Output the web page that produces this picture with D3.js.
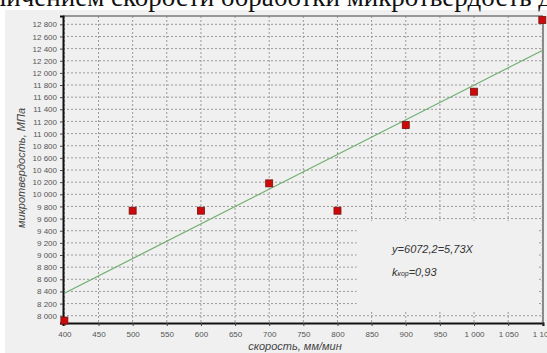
<!DOCTYPE html>
<html>
<head>
<meta charset="utf-8">
<script src="https://cdn.jsdelivr.net/npm/d3@7"></script>
<style>
    body { margin: 0; background: #fff; }
    svg { display: block; }
    .tick text { font-family: "Liberation Sans", Arial, sans-serif; font-size: 8px; fill: #555; }
</style>
</head>
<body>
<div id="plot-container"></div>
<script>
// measured points: speed (mm/min) vs microhardness (MPa)
const speeds = [400, 500, 600, 700, 800, 900, 1000, 1100];
const hardness = [7920, 9730, 9730, 10180, 9730, 11140, 11690, 12870];

// trend line end points
const trendX = [400, 1100];
const trendY = [8370, 12370];

const xTicks = [400, 450, 500, 550, 600, 650, 700, 750, 800, 850, 900, 950, 1000, 1050, 1100];
const yTicks = [8000, 8200, 8400, 8600, 8800, 9000, 9200, 9400, 9600, 9800, 10000, 10200, 10400,
    10600, 10800, 11000, 11200, 11400, 11600, 11800, 12000, 12200, 12400, 12600, 12800];

const equationText = "y=6072,2=5,73X";
const corrLabel = "k";
const corrSub = "кор";
const corrValue = "=0,93";

const margin = { top: 16, right: 4, bottom: 30, left: 63 };
const width = 547 - margin.left - margin.right;
const height = 353 - margin.top - margin.bottom;

const fmt = d3.formatLocale({ decimal: ",", thousands: " ", grouping: [3] }).format(",d");

const svgRoot = d3.select("#plot-container")
    .append("svg")
    .attr("width", 547)
    .attr("height", 353);

// grey panel of the screenshot
svgRoot.append("rect")
    .attr("x", 5).attr("y", 10)
    .attr("width", 542).attr("height", 343)
    .attr("fill", "#f0f0f0");

// cut-off line of document text above the chart
svgRoot.append("text")
    .attr("x", 552)
    .attr("y", 6)
    .attr("text-anchor", "end")
    .style("font-family", "'Liberation Serif', 'Times New Roman', serif")
    .style("font-size", "27px")
    .attr("fill", "#111")
    .text("увеличением скорости обработки микротвердость д");

const svg = svgRoot.append("g")
    .attr("transform", "translate(" + margin.left + "," + margin.top + ")");

const xScale = d3.scaleLinear()
    .domain([398, 1101])
    .range([0, width]);

const yScale = d3.scaleLinear()
    .domain([7880, 12937])
    .range([height, 0]);

// grid
svg.append("g")
    .selectAll("line")
    .data(yTicks)
    .enter()
    .append("line")
    .attr("x1", 0).attr("x2", width)
    .attr("y1", d => yScale(d)).attr("y2", d => yScale(d))
    .attr("stroke", "#9a9a9a")
    .attr("stroke-width", 1)
    .attr("stroke-dasharray", "2,2");

svg.append("g")
    .selectAll("line")
    .data(xTicks)
    .enter()
    .append("line")
    .attr("x1", d => xScale(d)).attr("x2", d => xScale(d))
    .attr("y1", 0).attr("y2", height)
    .attr("stroke", "#9a9a9a")
    .attr("stroke-width", 1)
    .attr("stroke-dasharray", "2,2");

// box behind the equation hides the grid
svg.append("rect")
    .attr("x", xScale(828))
    .attr("y", yScale(9560))
    .attr("width", xScale(1093) - xScale(828))
    .attr("height", yScale(8075) - yScale(9560))
    .attr("fill", "#f0f0f0");

// frame top/right
svg.append("line")
    .attr("x1", 0).attr("x2", width).attr("y1", 0).attr("y2", 0)
    .attr("stroke", "#7a7a7a").attr("stroke-width", 1.5);
svg.append("line")
    .attr("x1", width).attr("x2", width).attr("y1", 0).attr("y2", height)
    .attr("stroke", "#8a8a8a").attr("stroke-width", 2);

// axes
const xAxis = svg.append("g")
    .attr("transform", "translate(0," + height + ")")
    .call(d3.axisBottom(xScale).tickValues(xTicks).tickFormat(fmt).tickSize(3).tickPadding(5));

const yAxis = svg.append("g")
    .call(d3.axisLeft(yScale).tickValues(yTicks).tickFormat(fmt).tickSize(3).tickPadding(3));

[xAxis, yAxis].forEach(a => {
    a.select(".domain").attr("stroke", "#111").attr("stroke-width", 2);
    a.selectAll(".tick line").attr("stroke", "#444");
});

// trend line
svg.append("line")
    .attr("x1", xScale(trendX[0])).attr("y1", yScale(trendY[0]))
    .attr("x2", xScale(trendX[1])).attr("y2", yScale(trendY[1]))
    .attr("stroke", "#6fae6f")
    .attr("stroke-width", 1.2);

// points
const pts = speeds.map((s, i) => ({ s: s, h: hardness[i] }));
svg.selectAll(".pt")
    .data(pts)
    .enter()
    .append("rect")
    .attr("class", "pt")
    .attr("x", d => xScale(d.s) - 3.5)
    .attr("y", d => yScale(d.h) - 3.5)
    .attr("width", 7)
    .attr("height", 7)
    .attr("fill", "#cc0a0a")
    .attr("stroke", "#7a1010")
    .attr("stroke-width", 0.8);

// equation text
svg.append("text")
    .attr("x", xScale(880))
    .attr("y", yScale(9030))
    .style("font-family", "'Liberation Sans', Arial, sans-serif")
    .style("font-size", "11px")
    .style("font-style", "italic")
    .attr("fill", "#333")
    .text(equationText);

const corr = svg.append("text")
    .attr("x", xScale(880))
    .attr("y", yScale(8650))
    .style("font-family", "'Liberation Sans', Arial, sans-serif")
    .style("font-size", "11px")
    .style("font-style", "italic")
    .attr("fill", "#333");
corr.append("tspan").text(corrLabel);
corr.append("tspan").style("font-size", "7px").text(corrSub);
corr.append("tspan").text(corrValue);

// axis titles
svgRoot.append("text")
    .attr("text-anchor", "middle")
    .attr("x", 295)
    .attr("y", 350)
    .style("font-family", "'Liberation Sans', Arial, sans-serif")
    .style("font-size", "11px")
    .style("font-style", "italic")
    .attr("fill", "#444")
    .text("скорость, мм/мин");

svgRoot.append("text")
    .attr("text-anchor", "middle")
    .attr("transform", "translate(25,168) rotate(-90)")
    .style("font-family", "'Liberation Sans', Arial, sans-serif")
    .style("font-size", "11px")
    .style("font-style", "italic")
    .attr("fill", "#444")
    .text("микротвердость, МПа");
</script>
</body>
</html>
